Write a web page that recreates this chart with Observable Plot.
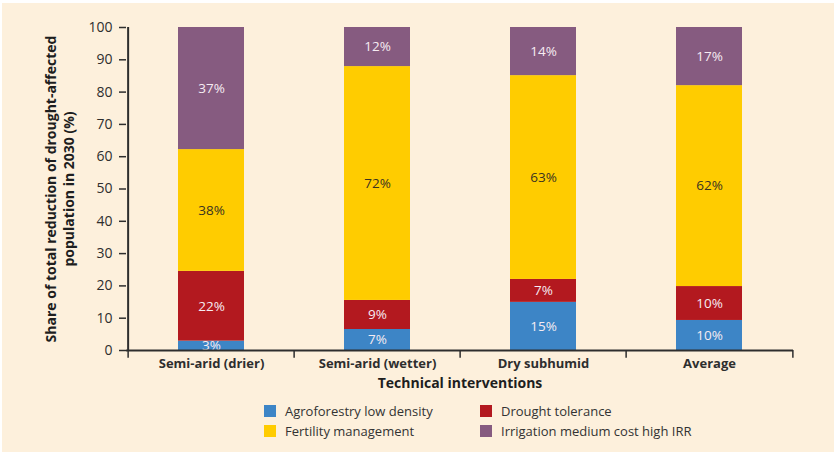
<!DOCTYPE html>
<html>
<head>
<meta charset="utf-8">
<script src="https://cdn.jsdelivr.net/npm/d3@7"></script>
<script src="https://cdn.jsdelivr.net/npm/@observablehq/plot@0.6"></script>
<style>
  html, body { margin: 0; padding: 0; background: #ffffff; }
  #box { position: absolute; left: 2px; top: 3px; width: 832px; height: 449px; background: #FDF0DC; font-family: "Open Sans", sans-serif; }
  #legend { position: absolute; left: 262px; top: 401px; display: grid; grid-template-columns: 216px 240px; row-gap: 6px; font-size: 13px; color: #333; }
  .item { display: flex; align-items: center; height: 14px; }
  .sw { width: 12px; height: 12px; margin-right: 9px; flex: none; }
</style>
</head>
<body>
<div id="box"><div id="chart"></div><div id="legend"></div></div>
<script>
const categories = ["Semi-arid (drier)", "Semi-arid (wetter)", "Dry subhumid", "Average"];
const seriesNames = ["Agroforestry low density", "Drought tolerance", "Fertility management", "Irrigation medium cost high IRR"];
const seriesColors = ["#3D85C6", "#B3191F", "#FFCC00", "#865B80"];
const agroforestry = [2.9, 6.5, 14.9, 9.3];
const droughtTolerance = [21.6, 9.0, 7.1, 10.5];
const fertility = [37.7, 72.4, 63.1, 62.2];
const irrigation = [37.8, 12.1, 14.9, 18.0];
const agroforestryLabels = ["3%", "7%", "15%", "10%"];
const droughtLabels = ["22%", "9%", "7%", "10%"];
const fertilityLabels = ["38%", "72%", "63%", "62%"];
const irrigationLabels = ["37%", "12%", "14%", "17%"];
const yTicks = [0, 10, 20, 30, 40, 50, 60, 70, 80, 90, 100];
const yTitle = "Share of total reduction of drought-affected\npopulation in 2030 (%)";
const xTitle = "Technical interventions";

const seriesValues = [agroforestry, droughtTolerance, fertility, irrigation];
const seriesLabels = [agroforestryLabels, droughtLabels, fertilityLabels, irrigationLabels];
const rows = [];
categories.forEach((c, i) => {
  seriesNames.forEach((s, j) => {
    rows.push({category: c, series: s, value: seriesValues[j][i], label: seriesLabels[j][i]});
  });
});

const W = 832, H = 392;
const mL = 124, mR = 41, mT = 24, mB = 45;
const step = (W - mL - mR) / categories.length;
const axisColor = "#2e2e2e";
const darkSeries = seriesNames[2];

const chart = Plot.plot({
  width: W, height: H,
  marginLeft: mL, marginRight: mR, marginTop: mT, marginBottom: mB,
  style: {background: "transparent", fontFamily: "'Open Sans', sans-serif", color: axisColor},
  x: {domain: categories, padding: 0, axis: null},
  y: {domain: [0, 100], axis: null},
  color: {domain: seriesNames, range: seriesColors},
  marks: [
    Plot.barY(rows, {x: "category", y: "value", fill: "series", insetLeft: 50, insetRight: 50}),
    Plot.text(rows, Plot.stackY({x: "category", y: "value", z: "series",
      text: d => d.series === darkSeries ? d.label : "", fill: "#3a3320", fontSize: 13.5})),
    Plot.text(rows, Plot.stackY({x: "category", y: "value", z: "series",
      text: d => d.series !== darkSeries ? d.label : "", fill: "#f6ecf2", fontSize: 13.5})),
    Plot.axisY({ticks: yTicks, tickSize: 7, tickPadding: 7, fontSize: 14, label: null, stroke: axisColor, fill: axisColor, strokeWidth: 1.5}),
    Plot.axisX({tickSize: 0, tickPadding: 8, fontSize: 13, fontWeight: "bold", label: null, fill: axisColor}),
    Plot.ruleY([0], {stroke: axisColor, strokeWidth: 2}),
    Plot.ruleX([categories[0]], {dx: -step / 2, y1: 0, y2: 100, stroke: axisColor, strokeWidth: 2}),
    Plot.ruleX(categories, {dx: -step / 2, y1: 0, y2: -2.4, stroke: axisColor, strokeWidth: 1.5}),
    Plot.ruleX([categories[categories.length - 1]], {dx: step / 2, y1: 0, y2: -2.4, stroke: axisColor, strokeWidth: 1.5}),
    Plot.text([xTitle], {frameAnchor: "bottom", dy: 37, fontSize: 14, fontWeight: "bold", fill: "#1e1e1e"}),
    Plot.text([yTitle], {frameAnchor: "left", textAnchor: "middle", dx: -67, rotate: -90, lineHeight: 1.3, fontSize: 14, fontWeight: "bold", fill: "#1e1e1e"})
  ]
});
document.getElementById("chart").appendChild(chart);

const legend = document.getElementById("legend");
seriesNames.forEach((s, j) => {
  const item = document.createElement("div");
  item.className = "item";
  const sw = document.createElement("span");
  sw.className = "sw";
  sw.style.background = seriesColors[j];
  const t = document.createElement("span");
  t.textContent = s;
  item.appendChild(sw); item.appendChild(t);
  legend.appendChild(item);
});
</script>
</body>
</html>
